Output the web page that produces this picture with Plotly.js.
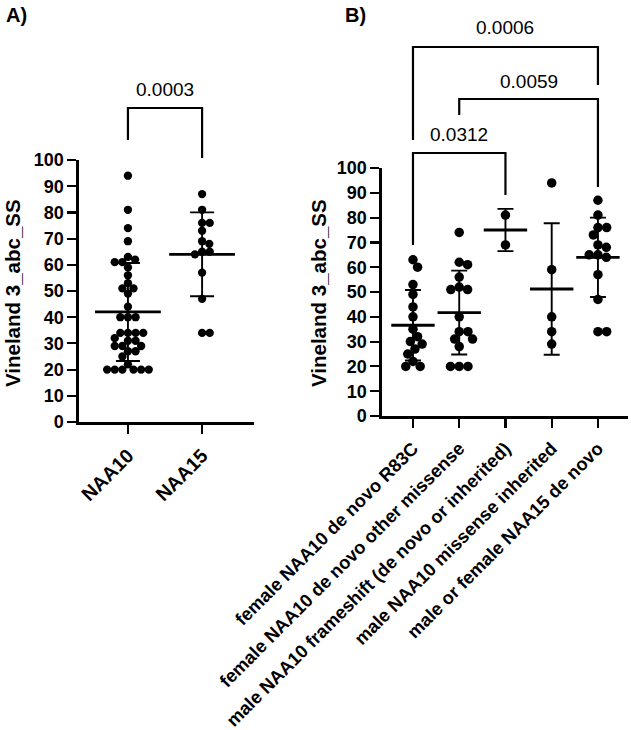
<!DOCTYPE html>
<html><head><meta charset="utf-8">
<script src="https://cdn.plot.ly/plotly-3.0.1.min.js"></script>
<style>html,body{margin:0;padding:0;background:#fff}</style>
</head><body><div id="chart" style="width:631px;height:730px"></div>
<script>
// ---------- data ----------
const catsA = ['NAA10', 'NAA15'];
const valsNAA10 = [94,81,74,69,63,62,61,61,59,56,53,51,51,49,44,40,40,40,34,34,34,34,32,31,31,29,29,29,27,27,25,22,20,20,20,20,20,20];
const valsNAA15 = [87,81,76,76,73,69,68,65,65,64,57,47,34,34];
const meanA = [42, 64];
const sdA = [18.7, 16.0];

const catsB = ['female NAA10 de novo R83C', 'female NAA10 de novo other missense',
  'male NAA10 frameshift (de novo or inherited)', 'male NAA10 missense inherited', 'male or female NAA15 de novo'];
const valsR83C = [63,60,53,49,44,40,35,32,30,29,27,25,22,20,20];
const valsOtherMissense = [74,62,61,56,52,51,51,40,34,34,31,31,28,20,20,20];
const valsFrameshift = [81,69];
const valsMissenseInh = [94,59,40,34,29];
const valsNAA15B = [87,81,76,76,73,69,68,65,65,64,57,47,34,34];
const meanB = [36.6, 41.7, 75, 51.2, 64];
const sdB = [14.2, 16.9, 8.5, 26.5, 16.0];

const yTickVals = [0,10,20,30,40,50,60,70,80,90,100];
const compA = [[0,1]];
const pA = ['0.0003'];
const compB = [[0,4],[1,4],[0,2]];
const pB = ['0.0006','0.0059','0.0312'];

// ---------- layout geometry (pixels) ----------
const W = 631, H = 730;
const gA = {x0:79, x1:254, yTop:160, yBot:422, r:[-0.66, 1.70]};
const gB = {x0:382, x1:628, yTop:168, yBot:416, r:[-0.67, 4.65]};
const px = v => v / W, py = v => (H - v) / H;

function swarm(vals, d, g) {
  const pxX = (g.x1 - g.x0) / (g.r[1] - g.r[0]);
  const pxY = (g.yBot - g.yTop) / 100;
  const order = vals.map((v,i)=>i).sort((a,b)=>vals[b]-vals[a]);
  const placed = [], off = new Array(vals.length);
  for (const i of order) {
    const y = vals[i]*pxY;
    const cands = [0];
    for (const p of placed) {
      const dy = y - p.y;
      if (Math.abs(dy) < d) { const dx = Math.sqrt(d*d - dy*dy); cands.push(p.x+dx, p.x-dx); }
    }
    cands.sort((a,b)=>Math.abs(a)-Math.abs(b) || b-a);
    let chosen = 0;
    for (const c of cands) {
      if (placed.every(p => (p.x-c)**2 + (p.y-y)**2 >= d*d - 1e-6)) { chosen = c; break; }
    }
    placed.push({x:chosen, y});
    off[i] = chosen / pxX;
  }
  return off;
}

const FONT = 'Arial, "Liberation Sans", sans-serif';
const traces = [];
function addGroup(vals, idx, g, size, xa, ya) {
  const off = swarm(vals, size * 0.92, g);
  traces.push({type:'scatter', mode:'markers', x: vals.map((v,i)=>idx+off[i]), y: vals,
    xaxis:xa, yaxis:ya, cliponaxis:false, hoverinfo:'y',
    marker:{size:size, color:'#000'}, showlegend:false});
}
[valsNAA10, valsNAA15].forEach((v,i)=>addGroup(v, i, gA, 8.3, 'x', 'y'));
[valsR83C, valsOtherMissense, valsFrameshift, valsMissenseInh, valsNAA15B].forEach((v,i)=>addGroup(v, i, gB, 9.5, 'x2', 'y2'));

traces.push({type:'scatter', mode:'markers', x: catsA.map((c,i)=>i), y: meanA, xaxis:'x', yaxis:'y',
  cliponaxis:false, showlegend:false,
  marker:{symbol:'line-ew', size:47, color:'#000', line:{width:2.8, color:'#000'}},
  error_y:{type:'data', array:sdA, visible:true, color:'#000', thickness:1.9, width:12}});
traces.push({type:'scatter', mode:'markers', x: catsB.map((c,i)=>i), y: meanB, xaxis:'x2', yaxis:'y2',
  cliponaxis:false, showlegend:false,
  marker:{symbol:'line-ew', size:31, color:'#000', line:{width:2.8, color:'#000'}},
  error_y:{type:'data', array:sdB, visible:true, color:'#000', thickness:1.9, width:8}});

const axisCommon = {showline:true, linecolor:'#000', linewidth:2.6, ticks:'outside', ticklen:9,
  tickwidth:2.2, tickcolor:'#000', showgrid:false, zeroline:false, automargin:false, fixedrange:true};
const yTickFont = {family:FONT, size:18, color:'#000', weight:'bold'};

// brackets: [yTop, yLeftEnd, yRightEnd, yText] in px
const brA = [[108, 140, 158, 89]];
const brB = [[47, 140, 85, 27], [99, 115, 187, 82], [153, 245, 195, 135]];
const shapes = [], annotations = [];
function addBrackets(comp, pv, br, xref) {
  comp.forEach((c,k)=>{
    const [t, l, r, ty] = br[k];
    const ln = {color:'#000', width:2.2};
    shapes.push({type:'line', xref, yref:'paper', x0:c[0], x1:c[1], y0:py(t), y1:py(t), line:ln});
    shapes.push({type:'line', xref, yref:'paper', x0:c[0], x1:c[0], y0:py(t-1), y1:py(l), line:ln});
    shapes.push({type:'line', xref, yref:'paper', x0:c[1], x1:c[1], y0:py(t-1), y1:py(r), line:ln});
    annotations.push({xref, yref:'paper', x:(c[0]+c[1])/2, y:py(ty), text:pv[k], showarrow:false,
      xanchor:'center', yanchor:'middle', font:{family:FONT, size:19, color:'#000'}});
  });
}
addBrackets(compA, pA, brA, 'x');
addBrackets(compB, pB, brB, 'x2');

annotations.push({xref:'paper', yref:'paper', x:px(12), y:py(293), text:'Vineland 3_abc_SS', textangle:-90,
  showarrow:false, xanchor:'center', yanchor:'middle', font:{family:FONT, size:20.5, color:'#000', weight:'bold'}});
annotations.push({xref:'paper', yref:'paper', x:px(318), y:py(293), text:'Vineland 3_abc_SS', textangle:-90,
  showarrow:false, xanchor:'center', yanchor:'middle', font:{family:FONT, size:20.5, color:'#000', weight:'bold'}});
annotations.push({xref:'paper', yref:'paper', x:px(4), y:py(2), text:'A)', showarrow:false,
  xanchor:'left', yanchor:'top', font:{family:FONT, size:20, color:'#000', weight:'bold'}});
annotations.push({xref:'paper', yref:'paper', x:px(343), y:py(2), text:'B)', showarrow:false,
  xanchor:'left', yanchor:'top', font:{family:FONT, size:20, color:'#000', weight:'bold'}});

const layout = {
  width:W, height:H, margin:{l:0, r:0, t:0, b:0}, paper_bgcolor:'#fff', plot_bgcolor:'#fff',
  showlegend:false,
  xaxis: Object.assign({}, axisCommon, {domain:[px(gA.x0), px(gA.x1)], range:gA.r, anchor:'y',
    tickmode:'array', tickvals:catsA.map((c,i)=>i), ticktext:catsA, tickangle:-45, ticklabelstandoff:3,
    tickfont:{family:FONT, size:19.5, color:'#000', weight:'bold'}}),
  yaxis: Object.assign({}, axisCommon, {domain:[py(gA.yBot), py(gA.yTop)], range:[0,100], anchor:'x',
    tickmode:'array', tickvals:yTickVals, tickfont:yTickFont}),
  xaxis2: Object.assign({}, axisCommon, {domain:[px(gB.x0), px(gB.x1)], range:gB.r, anchor:'y2',
    tickmode:'array', tickvals:catsB.map((c,i)=>i), ticktext:catsB, tickangle:-45, ticklabelstandoff:3,
    tickfont:{family:FONT, size:18.3, color:'#000', weight:'bold'}}),
  yaxis2: Object.assign({}, axisCommon, {domain:[py(gB.yBot), py(gB.yTop)], range:[0,100], anchor:'x2',
    tickmode:'array', tickvals:yTickVals, tickfont:yTickFont}),
  shapes, annotations
};
Plotly.newPlot('chart', traces, layout, {staticPlot:true, displayModeBar:false});
</script></body></html>
